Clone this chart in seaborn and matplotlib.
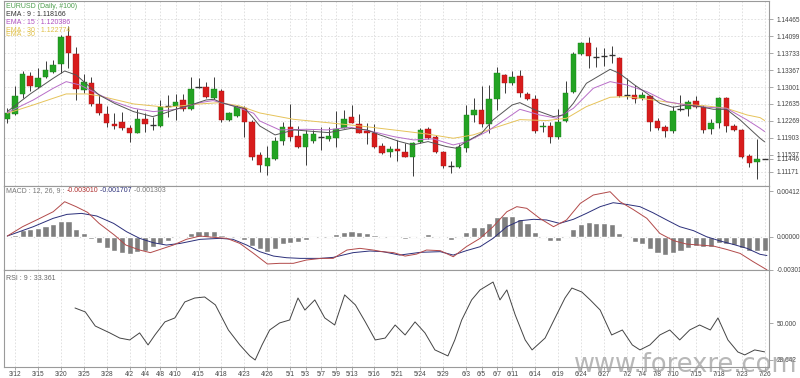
import numpy as np
import matplotlib
matplotlib.use("Agg")
import matplotlib.pyplot as plt
import seaborn as sns

# ---------------- data ----------------
opens = [1.12319, 1.12427, 1.12852, 1.13240, 1.13010, 1.13226, 1.13334, 1.13492, 1.14104, 1.13708,
         1.12938, 1.13096, 1.12636, 1.12412, 1.12196, 1.12240, 1.12110, 1.12016, 1.12304, 1.12182,
         1.12160, 1.12592, 1.12592, 1.12722, 1.12520, 1.13010, 1.13010, 1.12772, 1.12924, 1.12290,
         1.12376, 1.12542, 1.12254, 1.11534, 1.11304, 1.11448, 1.11844, 1.12132, 1.11952, 1.11700,
         1.11844, 1.11930, 1.11880, 1.11894, 1.12124, 1.12348, 1.12196, 1.12060, 1.12016, 1.11736,
         1.11606, 1.11656, 1.11599, 1.11498, 1.11815, 1.12088, 1.11930, 1.11599, 1.11304, 1.11282,
         1.11692, 1.12405, 1.12506, 1.12196, 1.12736, 1.13262, 1.13096, 1.13240, 1.12852, 1.12744,
         1.12146, 1.12168, 1.11916, 1.12268, 1.12902, 1.13708, 1.13960, 1.13658, 1.13672, 1.13694,
         1.13636, 1.12830, 1.12830, 1.12758, 1.12808, 1.12268, 1.12132, 1.12060, 1.12520, 1.12520,
         1.12708, 1.12564, 1.12088, 1.12232, 1.12758, 1.12168, 1.12074, 1.11512, 1.11390, 1.11446]
highs = [1.12542, 1.13024, 1.13356, 1.13334, 1.13406, 1.13572, 1.13586, 1.14126, 1.14320, 1.13874,
         1.13284, 1.13226, 1.12830, 1.12592, 1.12448, 1.12470, 1.12182, 1.12520, 1.12448, 1.12362,
         1.12722, 1.12830, 1.12852, 1.12852, 1.13212, 1.13190, 1.13118, 1.13212, 1.12952, 1.12470,
         1.12614, 1.12592, 1.12290, 1.11606, 1.11728, 1.11930, 1.12254, 1.12636, 1.12160, 1.12074,
         1.12074, 1.12146, 1.12132, 1.12492, 1.12506, 1.12607, 1.12420, 1.12218, 1.12204, 1.11786,
         1.11728, 1.11858, 1.11786, 1.11822, 1.12110, 1.12146, 1.11966, 1.11628, 1.11412, 1.11772,
         1.12614, 1.12758, 1.13024, 1.13046, 1.13442, 1.13284, 1.13356, 1.13370, 1.12902, 1.12830,
         1.12254, 1.12254, 1.12520, 1.13140, 1.13766, 1.13982, 1.14090, 1.13874, 1.13838, 1.13888,
         1.13658, 1.13190, 1.13046, 1.12902, 1.12830, 1.12326, 1.12182, 1.12592, 1.12830, 1.12722,
         1.12808, 1.12614, 1.12304, 1.12780, 1.12780, 1.12204, 1.12088, 1.11556, 1.11872, 1.11446]
lows = [1.12218, 1.12398, 1.12758, 1.12924, 1.12974, 1.13190, 1.13298, 1.13298, 1.13406, 1.12722,
        1.12866, 1.12592, 1.12398, 1.12132, 1.12088, 1.12074, 1.11822, 1.12002, 1.12038, 1.12074,
        1.12132, 1.12362, 1.12290, 1.12492, 1.12506, 1.12974, 1.12758, 1.12751, 1.12254, 1.12276,
        1.12362, 1.11930, 1.11426, 1.11174, 1.11102, 1.11426, 1.11750, 1.11844, 1.11678, 1.11318,
        1.11786, 1.11642, 1.11844, 1.11714, 1.12110, 1.12218, 1.12002, 1.11772, 1.11678, 1.11556,
        1.11498, 1.11412, 1.11484, 1.11080, 1.11786, 1.11872, 1.11584, 1.11246, 1.11152, 1.11253,
        1.11592, 1.12254, 1.12146, 1.12002, 1.12506, 1.12866, 1.13046, 1.12794, 1.12722, 1.12002,
        1.12038, 1.11800, 1.11872, 1.12254, 1.12866, 1.13694, 1.13406, 1.13442, 1.13456, 1.13528,
        1.12780, 1.12736, 1.12664, 1.12722, 1.12060, 1.12074, 1.11916, 1.12002, 1.12492, 1.12376,
        1.12542, 1.12002, 1.11980, 1.12110, 1.12038, 1.12060, 1.11462, 1.11282, 1.11008, 1.11446]
closes = [1.12448, 1.12808, 1.13284, 1.13024, 1.13190, 1.13370, 1.13471, 1.14090, 1.13730, 1.12952,
          1.13104, 1.12628, 1.12434, 1.12232, 1.12160, 1.12110, 1.12002, 1.12312, 1.12196, 1.12182,
          1.12564, 1.12592, 1.12686, 1.12520, 1.12967, 1.13010, 1.12780, 1.12960, 1.12290, 1.12434,
          1.12564, 1.12254, 1.11498, 1.11318, 1.11476, 1.11844, 1.12132, 1.11916, 1.11714, 1.11988,
          1.11980, 1.11930, 1.11944, 1.12088, 1.12312, 1.12232, 1.12016, 1.12016, 1.11714, 1.11584,
          1.11656, 1.11628, 1.11498, 1.11800, 1.12074, 1.11894, 1.11606, 1.11296, 1.11304, 1.11714,
          1.12405, 1.12506, 1.12196, 1.12736, 1.13298, 1.13096, 1.13226, 1.12866, 1.12744, 1.12060,
          1.12160, 1.11930, 1.12254, 1.12880, 1.13716, 1.13960, 1.13672, 1.13658, 1.13672, 1.13694,
          1.12816, 1.12830, 1.12736, 1.12830, 1.12254, 1.12124, 1.12060, 1.12492, 1.12520, 1.12686,
          1.12564, 1.12074, 1.12218, 1.12758, 1.12168, 1.12074, 1.11498, 1.11368, 1.11440, 1.11446]

ema_x9 = [0, 3, 6, 7.5, 9, 11, 12, 14, 16.5, 19, 20.5, 22, 24, 26, 27, 28, 29.5, 31, 32, 33, 35, 37.5,
          42, 45, 47, 48.7, 51.3, 53, 55, 57.4, 58.7, 60, 62, 63.5, 66, 67, 69, 71.4, 72.7, 74, 75.7,
          78.8, 80, 82, 83.6, 85.3, 87, 88.8, 90.5, 92.3, 94, 95.8, 98.4, 99]
ema9 = [1.12470, 1.12852, 1.13190, 1.13348, 1.13262, 1.12974, 1.12830, 1.12650, 1.12470, 1.12362,
        1.12434, 1.12520, 1.12614, 1.12722, 1.12736, 1.12664, 1.12592, 1.12542, 1.12362, 1.12160,
        1.11966, 1.12074, 1.12016, 1.12110, 1.12074, 1.11966, 1.11822, 1.11750, 1.11822, 1.11714,
        1.11678, 1.11822, 1.12002, 1.12290, 1.12614, 1.12664, 1.12506, 1.12362, 1.12398, 1.12650,
        1.13082, 1.13384, 1.13298, 1.13046, 1.12866, 1.12650, 1.12564, 1.12614, 1.12578, 1.12520,
        1.12520, 1.12290, 1.11894, 1.11817]
ema_x15 = [0, 3.4, 6, 7.7, 9.5, 12.1, 13.9, 16.5, 19.1, 22.1, 25.2, 26.9, 29.5, 32.2, 33, 35.6, 39.1,
           41.8, 44.8, 47.4, 50.5, 53.1, 55.7, 58.3, 60.1, 62.7, 65.3, 67, 69.6, 71.8, 74, 76.6, 78.8,
           81, 83.6, 86.2, 88.8, 91.4, 94, 96.7, 98.4, 99]
ema15 = [1.12448, 1.12722, 1.12974, 1.13118, 1.13046, 1.12830, 1.12686, 1.12542, 1.12470, 1.12520,
         1.12664, 1.12708, 1.12600, 1.12434, 1.12268, 1.12074, 1.12088, 1.12074, 1.12132, 1.12052,
         1.11930, 1.11858, 1.11880, 1.11750, 1.11822, 1.12038, 1.12326, 1.12520, 1.12398, 1.12326,
         1.12542, 1.12974, 1.13118, 1.13046, 1.12902, 1.12686, 1.12614, 1.12564, 1.12542, 1.12290,
         1.12110, 1.12039]
ema_x30 = [0, 3.4, 7.7, 10.4, 12.1, 16.5, 20.8, 25.2, 27.8, 30.4, 33, 37.4, 41.8, 46.1, 50.5, 54.8,
           58.3, 60.9, 63.5, 67, 70.5, 73.1, 75.7, 78.8, 81, 84.4, 87.9, 91.4, 94, 96.7, 98.4, 99]
ema30 = [1.12434, 1.12614, 1.12852, 1.12852, 1.12808, 1.12636, 1.12564, 1.12636, 1.12664, 1.12592,
         1.12441, 1.12304, 1.12232, 1.12160, 1.12074, 1.11988, 1.11894, 1.11966, 1.12110, 1.12297,
         1.12276, 1.12326, 1.12578, 1.12780, 1.12794, 1.12722, 1.12636, 1.12592, 1.12542, 1.12398,
         1.12340, 1.12277]

macd_hist = [0.00003, 0.00015, 0.00061, 0.00067, 0.00082, 0.00100, 0.00115, 0.00139, 0.00142, 0.00067,
             0.00036, -0.00024, -0.00055, -0.00106, -0.00130, -0.00145, -0.00158, -0.00136, -0.00127, -0.00091,
             -0.00067, -0.00036, -0.00006, 0.00002, 0.00030, 0.00052, 0.00052, 0.00055, 0.00015, -0.00001,
             -0.00006, -0.00030, -0.00085, -0.00115, -0.00136, -0.00115, -0.00067, -0.00055, -0.00048, -0.00030,
             -0.00015, -0.00006, 0.00001, 0.00021, 0.00039, 0.00052, 0.00042, 0.00036, 0.00015, 0.00001,
             -0.00015, -0.00015, -0.00024, -0.00006, 0.00009, 0.00021, 0.00001, -0.00015, -0.00030, -0.00006,
             0.00045, 0.00091, 0.00091, 0.00127, 0.00176, 0.00191, 0.00191, 0.00158, 0.00121, 0.00045,
             0.00001, -0.00039, -0.00042, -0.00006, 0.00067, 0.00115, 0.00136, 0.00127, 0.00121, 0.00112,
             0.00036, -0.00009, -0.00045, -0.00067, -0.00115, -0.00152, -0.00167, -0.00145, -0.00127, -0.00100,
             -0.00082, -0.00091, -0.00097, -0.00061, -0.00067, -0.00076, -0.00100, -0.00127, -0.00127, -0.00130]
macd_x = [0, 2, 4, 6, 7.5, 9, 10.5, 12, 14, 15.5, 17.3, 18.7, 20, 21.7, 23.4, 25.2, 27, 28.7, 30.4,
          32.2, 34, 35.6, 37.4, 39.1, 41, 42.6, 44.4, 46.1, 47.8, 49, 50.5, 52, 53.5, 54.8, 56.6, 58.3,
          60, 61.8, 63.5, 65.3, 66.6, 67.9, 69.6, 71.4, 73.1, 74.9, 76.6, 78.8, 80.1, 81.8, 83.6, 85.3,
          87.1, 88.8, 90.5, 92.3, 94, 95.8, 97.5, 99.3]
macd_line = [0.00006, 0.00091, 0.00158, 0.00227, 0.00318, 0.00273, 0.00221, 0.00121, 0.00015, -0.00076,
             -0.00121, -0.00145, -0.00115, -0.00076, -0.00024, 0.00006, -0.00006, -0.00015, -0.00061,
             -0.00152, -0.00248, -0.00242, -0.00242, -0.00212, -0.00197, -0.00197, -0.00121, -0.00106,
             -0.00121, -0.00136, -0.00145, -0.00176, -0.00158, -0.00121, -0.00127, -0.00182, -0.00091,
             -0.00015, 0.00091, 0.00227, 0.00273, 0.00258, 0.00167, 0.00091, 0.00152, 0.00303, 0.00379,
             0.00409, 0.00318, 0.00248, 0.00167, 0.00030, -0.00036, -0.00067, -0.00076, -0.00085,
             -0.00115, -0.00152, -0.00227, -0.00301]
signal_x = [0, 3.4, 6, 7.8, 9.7, 11.7, 13.9, 15.6, 17.3, 19.1, 20.8, 22.6, 25.2, 27.8, 29.5, 31.3, 33,
            34.8, 36.5, 38.3, 40.9, 42.6, 45.2, 47.4, 49.1, 51.3, 54, 56.6, 58.3, 60, 61.8, 63.5, 65.3,
            67, 68.8, 70.5, 72.2, 74, 75.7, 77.5, 79.2, 80.9, 82.7, 84.4, 86.2, 87.9, 89.7, 91.4, 93.2,
            94.9, 96.7, 98.4, 99.3]
signal_line = [0.00006, 0.00091, 0.00167, 0.00203, 0.00212, 0.00188, 0.00121, 0.00045, -0.00015, -0.00055,
               -0.00076, -0.00061, -0.00024, -0.00015, -0.00024, -0.00076, -0.00136, -0.00176, -0.00191,
               -0.00197, -0.00197, -0.00188, -0.00145, -0.00130, -0.00136, -0.00167, -0.00142, -0.00136,
               -0.00167, -0.00127, -0.00091, -0.00015, 0.00091, 0.00145, 0.00158, 0.00152, 0.00121,
               0.00158, 0.00212, 0.00273, 0.00309, 0.00294, 0.00273, 0.00218, 0.00152, 0.00091, 0.00055,
               0.00000, -0.00039, -0.00070, -0.00106, -0.00160, -0.00171]

rsi_x = [8.85, 10.2, 11.5, 13.4, 14.7, 16.0, 17.3, 18.4, 19.3, 20.6, 21.9, 23.2, 24.5, 25.8, 27.2, 28.9,
         30.4, 31.7, 32.4, 33.3, 34.3, 35.6, 36.9, 38.0, 38.9, 40.2, 41.5, 42.8, 44.1, 45.5, 46.8, 48.1,
         49.4, 50.7, 52.0, 53.3, 54.6, 55.9, 57.6, 58.5, 59.4, 60.7, 61.8, 63.5, 64.4, 65.3, 66.4, 67.7,
         68.6, 70.3, 71.6, 72.9, 73.8, 75.1, 76.2, 77.5, 79.0, 80.4, 81.7, 82.7, 84.0, 85.3, 86.6, 87.9,
         89.2, 90.5, 91.9, 92.9, 94.2, 95.5, 96.4, 97.7, 99.0]
rsi = [58.9, 56.6, 48.4, 44.4, 41.4, 40.3, 44.4, 37.4, 43.2, 50.8, 53.1, 62.4, 64.7, 65.3, 60.7, 46.1,
       37.4, 31.0, 28.64, 37.4, 46.1, 50.2, 51.9, 64.7, 57.7, 63.6, 53.1, 49.0, 66.5, 60.7, 50.8, 40.3,
       41.4, 49.0, 43.2, 50.8, 44.4, 34.5, 31.0, 40.3, 51.9, 63.6, 69.4, 74.0, 63.6, 69.4, 54.8, 40.3,
       34.5, 41.4, 53.1, 64.7, 70.5, 68.2, 63.6, 57.7, 43.2, 46.1, 37.4, 34.5, 37.4, 43.2, 46.1, 40.3,
       46.1, 49.0, 46.1, 53.1, 40.3, 33.3, 31.6, 34.5, 33.361]

tick_idx = [1, 4, 7, 10, 13, 16, 18, 20, 22, 25, 28, 31, 34, 37, 39, 41, 43, 45, 48, 51, 54, 57, 60, 62,
            64, 66, 69, 72, 75, 78, 81, 83, 85, 87, 90, 93, 96, 99]
tick_labels = ["3/12", "3/15", "3/20", "3/25", "3/28", "4/2", "4/4", "4/8", "4/10", "4/15", "4/18",
               "4/23", "4/26", "5/1", "5/3", "5/7", "5/9", "5/13", "5/16", "5/21", "5/24", "5/29",
               "6/3", "6/5", "6/7", "6/11", "6/14", "6/19", "6/24", "6/27", "7/2", "7/4", "7/8",
               "7/10", "7/15", "7/18", "7/23", "7/26"]
price_ticks = [1.11171, 1.11537, 1.11903, 1.12269, 1.12635, 1.13001, 1.13367, 1.13733, 1.14099, 1.14465]
last_price = 1.11446
macd_ticks = [-0.003010, 0.0, 0.004123]
rsi_ticks = [28.642, 50.0]

# ---------------- figure ----------------
sns.set_theme(style="white")
plt.rcParams['font.family'] = ['Liberation Sans', 'DejaVu Sans']
FS = 4.7
W, H = 800, 378
fig = plt.figure(figsize=(W / 100, H / 100), dpi=100)
fig.patch.set_facecolor('white')
L, R = 4 / W, 769 / W


def box(top, bottom):
    return [L, 1 - bottom / H, R - L, (bottom - top) / H]


ax1 = fig.add_axes(box(1, 186))
ax2 = fig.add_axes(box(186, 270))
ax3 = fig.add_axes(box(270, 367))

grid_kw = dict(color='#dcdcdc', lw=0.6, ls=(0, (2, 2)), zorder=0)
xlim = (-0.43, 99.57)
for ax in (ax1, ax2, ax3):
    ax.set_facecolor('white')
    ax.set_xlim(*xlim)
    for t in tick_idx:
        ax.axvline(t, **grid_kw)
    for s in ax.spines.values():
        s.set_color('#9a9a9a')
        s.set_linewidth(0.8)
    ax.yaxis.tick_right()
    ax.tick_params(axis='y', which='both', direction='out', length=3, width=0.6,
                   colors='#9a9a9a', labelcolor='#444444', labelsize=FS, pad=2.5, right=True, left=False)
    ax.set_xlabel('')
    ax.set_ylabel('')

# ---- price panel ----
x = np.arange(len(closes))
o, h, l, c = map(np.array, (opens, highs, lows, closes))
up = c > o
dn = c < o
flat = c == o
ax1.vlines(x, l, h, color='#3a3a3a', lw=0.7, zorder=2)
ax1.bar(x[up], (c - o)[up], bottom=o[up], width=0.72, color='#23a323', edgecolor='#1b7d1b', lw=0.3, zorder=3)
ax1.bar(x[dn], (o - c)[dn], bottom=c[dn], width=0.72, color='#d81c1c', edgecolor='#a51414', lw=0.3, zorder=3)
ax1.hlines(c[flat], x[flat] - 0.4, x[flat] + 0.4, color='#333333', lw=1.0, zorder=3)

sns.lineplot(x=ema_x30, y=ema30, ax=ax1, color='#e6c35a', lw=0.7, sort=False, legend=False, zorder=4)
sns.lineplot(x=ema_x15, y=ema15, ax=ax1, color='#b86ec8', lw=0.7, sort=False, legend=False, zorder=4)
sns.lineplot(x=ema_x9, y=ema9, ax=ax1, color='#555555', lw=0.7, sort=False, legend=False, zorder=4)

ax1.set_ylim(1.10862, 1.14861)
for p in price_ticks:
    ax1.axhline(p, **grid_kw)
ax1.set_yticks(price_ticks + [last_price])
ax1.set_yticklabels([f"{p:.5f}" for p in price_ticks + [last_price]])
ax1.tick_params(axis='x', bottom=False, labelbottom=False)
ax1.set_xlabel('')
ax1.set_ylabel('')

leg = [("EURUSD (Daily, #100)", '#4d9e4d', 6.5),
       ("EMA : 9 : 1.118166", '#333333', 14.3),
       ("EMA : 15 : 1.120386", '#b050c0', 22.5),
       ("EMA : 30 : 1.122774", '#e0c04a', 30.5),
       ("EMA : 30", '#e0c04a', 35.0)]
for txt, col, yy in leg:
    fig.text(6 / W, 1 - yy / H, txt, color=col, fontsize=FS + 0.3, va='center', ha='left')

# ---- MACD panel ----
ax2.axhline(0, color='#c8c8c8', lw=0.8, zorder=1)
sns.barplot(x=list(x), y=macd_hist, ax=ax2, native_scale=True, width=0.8, color='#7f7f7f',
            saturation=1, errorbar=None, zorder=2)
sns.lineplot(x=signal_x, y=signal_line, ax=ax2, color='#2b2f7a', lw=0.7, sort=False, legend=False, zorder=3)
sns.lineplot(x=macd_x, y=macd_line, ax=ax2, color='#b24a4a', lw=0.7, sort=False, legend=False, zorder=4)
ax2.set_xlim(*xlim)
ax2.set_ylim(-0.003027, 0.004609)
ax2.set_yticks(macd_ticks)
ax2.set_yticklabels(["-0.003010", "0.000000", "0.004123"])
ax2.tick_params(axis='x', bottom=False, labelbottom=False)
ax2.set_xlabel('')
ax2.set_ylabel('')

t0 = ax2.text(6 / W, 1 - 190.7 / H, "MACD : 12, 26, 9 : ", transform=fig.transFigure,
              color='#777777', fontsize=FS + 0.3, va='center', ha='left')
t1 = ax2.annotate("-0.003010", xy=(1, 0.5), xycoords=t0, va='center', ha='left',
                  color='#b03030', fontsize=FS + 0.3)
t2 = ax2.annotate(" -0.001707", xy=(1, 0.5), xycoords=t1, va='center', ha='left',
                  color='#2b2f7a', fontsize=FS + 0.3)
ax2.annotate(" -0.001303", xy=(1, 0.5), xycoords=t2, va='center', ha='left',
             color='#777777', fontsize=FS + 0.3)

# ---- RSI panel ----
sns.lineplot(x=rsi_x, y=rsi, ax=ax3, color='#444444', lw=0.7, sort=False, legend=False, zorder=3)
ax3.set_ylim(24.56, 81.0)
ax3.set_yticks(rsi_ticks)
ax3.set_yticklabels(["28.642", "50.000"])
ax3.set_xticks(tick_idx)
ax3.set_xticklabels(tick_labels)
ax3.tick_params(axis='x', direction='out', length=2, width=0.6, colors='#9a9a9a',
                labelcolor='#444444', labelsize=FS, pad=0.8, bottom=True)
ax3.set_xlim(*xlim)
ax3.set_xlabel('')
ax3.set_ylabel('')
fig.text(6 / W, 1 - 279 / H, "RSI : 9 : 33.361", color='#666666', fontsize=FS + 0.3, va='center', ha='left')

# watermark
fig.text(574 / W, 1 - 372 / H, "www.forexre.com", color='#9a9a9a', alpha=0.7,
         fontsize=18.5, ha='left', va='baseline', family='DejaVu Sans')

fig.savefig("out.png", dpi=100, facecolor='white')
